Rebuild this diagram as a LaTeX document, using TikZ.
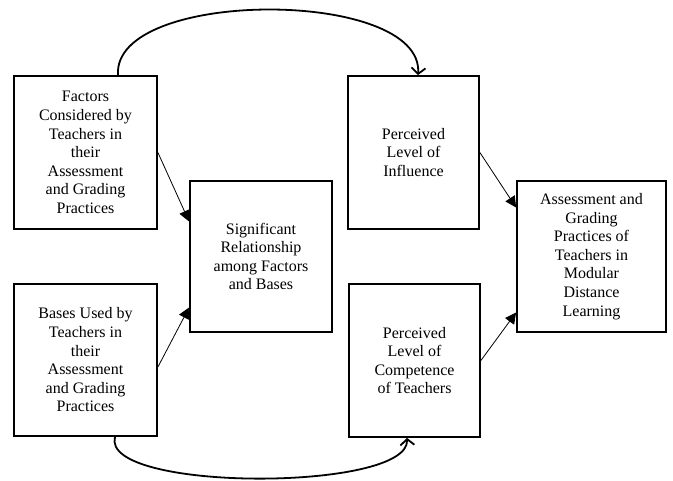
\documentclass[tikz,border=0pt]{standalone}
\usepackage{fontspec}
\setmainfont{Liberation Serif}
\usetikzlibrary{arrows.meta}

\begin{document}
\begin{tikzpicture}[x=1pt,y=-1pt,
  blk/.style={draw=black,line width=1.8pt,inner sep=0pt,align=center,
    font=\fontsize{16}{18.6}\selectfont},
  lnk/.style={line width=0.8pt,-{Triangle[length=11pt,width=11pt]}},
  loop/.style={line width=1.8pt,-{Straight Barb[length=6pt,width=14pt,line width=1.8pt]}}]
\useasboundingbox (0,0) rectangle (673,480);
\node[blk,minimum width=143pt,minimum height=153pt] (factors) at (85.5,152.5) {Factors\\Considered by\\Teachers in\\their\\Assessment\\and Grading\\Practices};
\node[blk,minimum width=143pt,minimum height=152pt] (bases) at (85.5,360) {Bases Used by\\Teachers in\\their\\Assessment\\and Grading\\Practices};
\node[blk,minimum width=142pt,minimum height=151pt] (relation) at (261,256.5) {Significant\\Relationship\\among Factors\\and Bases};
\node[blk,minimum width=131pt,minimum height=153pt] (influence) at (413.5,152.5) {Perceived\\Level of\\Influence};
\node[blk,minimum width=131pt,minimum height=153pt] (competence) at (414.5,360.5) {Perceived\\Level of\\Competence\\of Teachers};
\node[blk,minimum width=149pt,minimum height=151pt] (practices) at (591.5,256.5) {Assessment and\\Grading\\Practices of\\Teachers in\\Modular\\Distance\\Learning};

\draw[lnk] (factors.east) -- ([yshift=35pt]relation.west);
\draw[lnk] ([yshift=-7pt]bases.east) -- ([yshift=-51pt]relation.west);
\draw[lnk] (influence.east) -- ([yshift=49pt]practices.west);
\draw[lnk] (competence.east) -- ([yshift=-56pt]practices.west);

\draw[loop] ([xshift=32.5pt]factors.north) .. controls (112,-12) and (424,-12) .. ([xshift=4.5pt]influence.north);
\draw[loop] ([xshift=29.5pt]bases.south) .. controls (100,492) and (410,492) .. ([xshift=-7.5pt]competence.south);
\end{tikzpicture}
\end{document}
